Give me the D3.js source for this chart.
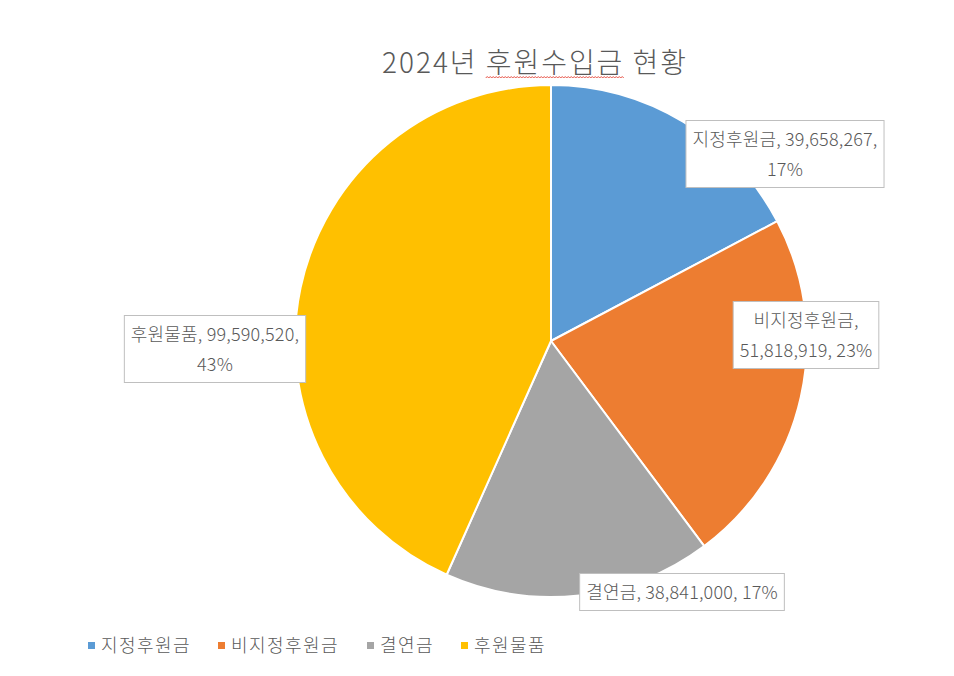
<!DOCTYPE html>
<html>
<head>
<meta charset="utf-8">
<script src="https://cdn.jsdelivr.net/npm/d3@7"></script>
<style>
  body { margin: 0; background: #fff; }
  text { font-family: "Noto Sans CJK KR", "Noto Sans", sans-serif; font-weight: 300; }
</style>
</head>
<body>
<div id="chart"></div>
<script>
const titleParts = ["2024년 ", "후원수입금", " 현황"];
const categories = ["지정후원금", "비지정후원금", "결연금", "후원물품"];
const values = [39658267, 51818919, 38841000, 99590520];
const colors = ["#5b9bd5", "#ed7d31", "#a5a5a5", "#ffc000"];

// label placement (box centres) and how each label wraps
const labelPos = [[785, 154], [806, 335], [682, 592], [215, 349]];
const labelWrap = ["pct", "name", "none", "pct"];

const width = 954, height = 676;
const cx = 551, cy = 341, radius = 256;

const svg = d3.select("#chart").append("svg")
    .attr("width", width)
    .attr("height", height);

// title
const t = svg.append("text")
    .attr("x", 535)
    .attr("y", 73)
    .attr("text-anchor", "middle")
    .attr("font-size", 28)
    .attr("letter-spacing", "0.07em")
    .attr("fill", "#595959");
titleParts.forEach(s => t.append("tspan").text(s));

// red spell-check squiggle under the middle word
const tn = t.node();
const s0 = tn.getStartPositionOfChar(titleParts[0].length).x;
const s1 = tn.getEndPositionOfChar(titleParts[0].length + titleParts[1].length - 1).x;
const sq = d3.path();
sq.moveTo(s0, 78);
let k = 0;
for (let x = s0 + 1.5; x <= s1; x += 1.5, k++) sq.lineTo(x, k % 2 ? 78 : 76.5);
svg.append("path").attr("d", sq.toString()).attr("fill", "none")
    .attr("stroke", "#e34234").attr("stroke-width", 0.9);

const total = d3.sum(values);
const pie = d3.pie().sort(null)(values);
const arc = d3.arc().innerRadius(0).outerRadius(radius);

const g = svg.append("g").attr("transform", `translate(${cx},${cy})`);
g.selectAll("path")
    .data(pie)
    .enter().append("path")
    .attr("d", arc)
    .attr("fill", (d, i) => colors[i])
    .attr("stroke", "#fff")
    .attr("stroke-width", 2)
    .attr("stroke-linejoin", "round");

// data labels
const fmt = d3.format(",");
values.forEach((v, i) => {
    const name = categories[i];
    const num = fmt(v);
    const pct = Math.round(v / total * 100) + "%";
    let lines;
    if (labelWrap[i] === "pct") lines = [`${name}, ${num},`, pct];
    else if (labelWrap[i] === "name") lines = [`${name},`, `${num}, ${pct}`];
    else lines = [`${name}, ${num}, ${pct}`];

    const [lx, ly] = labelPos[i];
    const lg = svg.append("g");
    const box = lg.append("rect");
    const txt = lg.append("text")
        .attr("text-anchor", "middle")
        .attr("font-size", 18)
        .attr("letter-spacing", "0.01em")
        .attr("fill", "#595959");
    const lh = 30;
    const top = ly - (lines.length * lh) / 2;
    lines.forEach((s, k) => {
        txt.append("tspan")
            .attr("x", lx)
            .attr("y", top + lh * k + lh / 2 + 6.5)
            .text(s);
    });
    const bb = txt.node().getBBox();
    const w = bb.width + 13, h = lines.length * lh + 7;
    box.attr("x", lx - w / 2).attr("y", ly - h / 2)
        .attr("width", w).attr("height", h)
        .attr("fill", "#fff")
        .attr("stroke", "#bfbfbf")
        .attr("stroke-width", 1);
});

// legend
const legX = [88, 218, 367, 461];
const leg = svg.append("g");
categories.forEach((c, i) => {
    leg.append("rect")
        .attr("x", legX[i]).attr("y", 642)
        .attr("width", 7).attr("height", 7)
        .attr("fill", colors[i]);
    leg.append("text")
        .attr("x", legX[i] + 13).attr("y", 652)
        .attr("font-size", 18)
        .attr("letter-spacing", "0.08em")
        .attr("fill", "#595959")
        .text(c);
});
</script>
</body>
</html>
